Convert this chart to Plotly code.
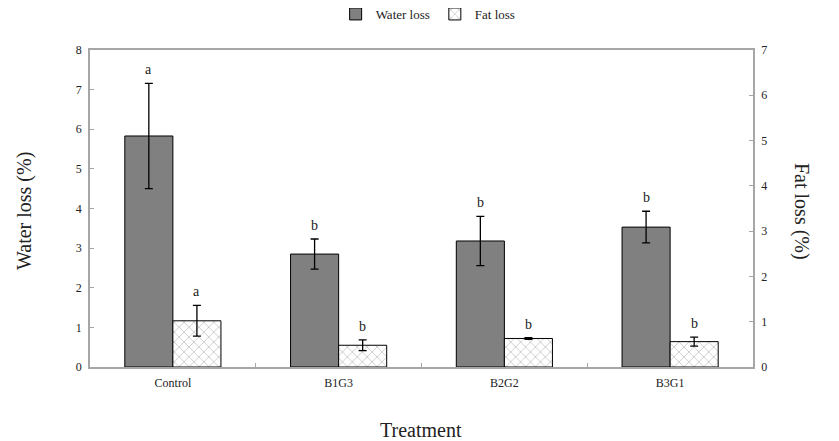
import plotly.graph_objects as go

categories = ["Control", "B1G3", "B2G2", "B3G1"]
water_loss = [5.83, 2.85, 3.18, 3.53]
water_err = [1.33, 0.38, 0.62, 0.40]
fat_loss = [1.02, 0.48, 0.63, 0.56]
fat_err = [0.34, 0.12, 0.02, 0.10]
water_letters = ["a", "b", "b", "b"]
fat_letters = ["a", "b", "b", "b"]

FONT = "Liberation Serif"

fig = go.Figure()
fig.add_trace(go.Bar(
    x=categories, y=water_loss, name="Water loss", offsetgroup="1",
    marker=dict(color="#808080", line=dict(color="black", width=1)),
    error_y=dict(type="data", array=water_err, color="black", thickness=1.3, width=4),
    yaxis="y",
))
fig.add_trace(go.Bar(
    x=categories, y=fat_loss, name="Fat loss", offsetgroup="2",
    marker=dict(color="white", line=dict(color="black", width=1),
                pattern=dict(shape="x", fgcolor="#8a8a8a", bgcolor="white", size=7, solidity=0.22)),
    error_y=dict(type="data", array=fat_err, color="black", thickness=1.3, width=4),
    yaxis="y2",
))

# page body adds an 8px offset; compensate so the plot lands where the reference has it
OFF = 8
W, H = 839 - OFF, 441 - OFF
L, R, T, B = 90 - OFF, 86, 50 - OFF, 74
pw, ph = W - L - R, H - T - B

def px_to_paper(px, py):
    # px, py are window pixel coordinates
    return (px - OFF - L) / pw, (H - B - (py - OFF)) / ph

annotations = []
for c, v, e, t in zip(categories, water_loss, water_err, water_letters):
    annotations.append(dict(x=c, y=v + e, xref="x", yref="y", text=t, showarrow=False,
                            xshift=-24, yshift=4, yanchor="bottom",
                            font=dict(family=FONT, size=14, color="#222")))
for c, v, e, t in zip(categories, fat_loss, fat_err, fat_letters):
    annotations.append(dict(x=c, y=v + e, xref="x", yref="y2", text=t, showarrow=False,
                            xshift=24, yshift=4, yanchor="bottom",
                            font=dict(family=FONT, size=14, color="#222")))
for text, px, py, ang in [("Water loss (%)", 25, 211, -90),
                          ("Fat loss (%)", 801, 211, 90),
                          ("Treatment", 421, 430, 0)]:
    x, y = px_to_paper(px, py)
    annotations.append(dict(x=x, y=y, xref="paper", yref="paper", text=text, showarrow=False,
                            xanchor="center", yanchor="middle",
                            textangle=ang, font=dict(family=FONT, size=20, color="#222")))

axis_common = dict(showline=True, linecolor="#a6a6a6", linewidth=1.5, ticks="inside",
                   ticklen=4, tickcolor="#a6a6a6", showgrid=False, zeroline=False,
                   automargin=False, tickfont=dict(family=FONT, size=12, color="#222"))

fig.update_layout(
    width=W, height=H,
    margin=dict(l=L, r=R, t=T, b=B, autoexpand=False),
    paper_bgcolor="white", plot_bgcolor="white",
    barmode="group", bargap=0.42, bargroupgap=0,
    font=dict(family=FONT, size=12, color="#222"),
    showlegend=True,
    legend=dict(orientation="h", x=0.51, xanchor="center", y=1 - (14 - OFF) / H, yanchor="middle",
                yref="container", font=dict(family=FONT, size=13, color="#222"),
                itemwidth=30, tracegroupgap=0),
    xaxis=dict(mirror=True, tickson="boundaries", ticklabelstandoff=4, **axis_common),
    yaxis=dict(range=[0, 8], dtick=1, ticklabelstandoff=4, **axis_common),
    yaxis2=dict(range=[0, 7], dtick=1, overlaying="y", side="right",
                ticklabelstandoff=4, **axis_common),
    annotations=annotations,
)

fig.write_html("out.html")
